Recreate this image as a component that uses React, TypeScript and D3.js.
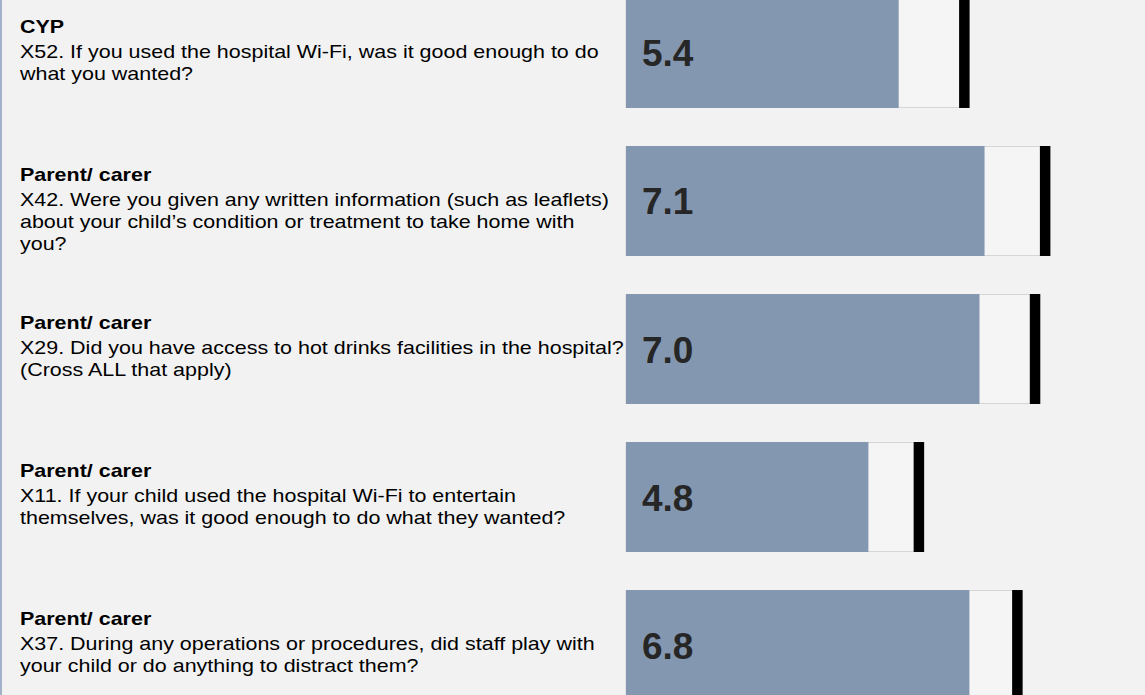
import React, { useRef, useEffect } from 'react'
import * as d3 from 'd3'

// respondent group shown in bold above each question
const groups = ['CYP', 'Parent/ carer', 'Parent/ carer', 'Parent/ carer', 'Parent/ carer']

const questionLines = [
  ['X52. If you used the hospital Wi-Fi, was it good enough to do', 'what you wanted?'],
  [
    'X42. Were you given any written information (such as leaflets)',
    'about your child\u2019s condition or treatment to take home with',
    'you?',
  ],
  ['X29. Did you have access to hot drinks facilities in the hospital?', '(Cross ALL that apply)'],
  ['X11. If your child used the hospital Wi-Fi to entertain', 'themselves, was it good enough to do what they wanted?'],
  ['X37. During any operations or procedures, did staff play with', 'your child or do anything to distract them?'],
]

const scores = [5.4, 7.1, 7.0, 4.8, 6.8]
const maxScores = [6.7, 8.3, 8.1, 5.8, 7.75]

const W = 1145
const H = 695

export default function App() {
  const ref = useRef(null)

  useEffect(() => {
    document.body.style.margin = '0'
    const svg = d3.select(ref.current)
    svg.selectAll('*').remove()

    const font = 'Arial, "Liberation Sans", sans-serif'

    svg.append('rect').attr('width', W).attr('height', H).attr('fill', '#f2f2f2')
    // left edge rule
    svg.append('line')
      .attr('x1', 1).attr('x2', 1).attr('y1', 0).attr('y2', H)
      .attr('stroke', '#a3b2c9').attr('stroke-width', 2)

    const idx = scores.map((_, i) => i)

    const x = d3.scaleLinear().domain([0, 10]).range([626, 1131])
    const y = d3.scaleBand().domain(idx).range([-2, 700]).paddingInner(0.257).paddingOuter(0)

    const rows = svg.selectAll('g.row')
      .data(idx)
      .enter()
      .append('g')
      .attr('class', 'row')

    // light range box up to the maximum
    rows.append('rect')
      .attr('x', x(0))
      .attr('y', i => y(i) + 0.5)
      .attr('width', i => x(maxScores[i]) - x(0))
      .attr('height', y.bandwidth() - 1)
      .attr('fill', '#f5f5f5')
      .attr('stroke', '#d6d6d6')
      .attr('stroke-width', 1)

    // score bar
    rows.append('rect')
      .attr('x', x(0))
      .attr('y', i => y(i))
      .attr('width', i => x(scores[i]) - x(0))
      .attr('height', y.bandwidth())
      .attr('fill', '#8497b0')

    // black marker at maximum
    rows.append('rect')
      .attr('x', i => x(maxScores[i]) - 5.25)
      .attr('y', i => y(i))
      .attr('width', 10.5)
      .attr('height', y.bandwidth())
      .attr('fill', '#000')

    // score label
    rows.append('text')
      .attr('x', x(0) + 16)
      .attr('y', i => y(i) + y.bandwidth() / 2 + 13.5)
      .attr('font-family', font)
      .attr('font-weight', 'bold')
      .attr('font-size', 37)
      .attr('fill', '#262626')
      .text(i => d3.format('.1f')(scores[i]))

    // question text on the left (slightly wide glyphs, as in the source)
    const txt = rows.append('text')
      .attr('transform', 'translate(20,0) scale(1.13,1)')
      .attr('font-family', font)
      .attr('font-size', 19)
      .attr('fill', '#000')

    txt.append('tspan')
      .attr('x', 0)
      .attr('y', i => y(i) + 35)
      .attr('font-weight', 'bold')
      .text(i => groups[i])

    txt.each(function (i) {
      const t = d3.select(this)
      questionLines[i].forEach((line, k) => {
        t.append('tspan')
          .attr('x', 0)
          .attr('y', y(i) + 35 + 25 + k * 22)
          .text(line)
      })
    })
  }, [])

  return <svg ref={ref} width={W} height={H} style={{ display: 'block' }} />
}
